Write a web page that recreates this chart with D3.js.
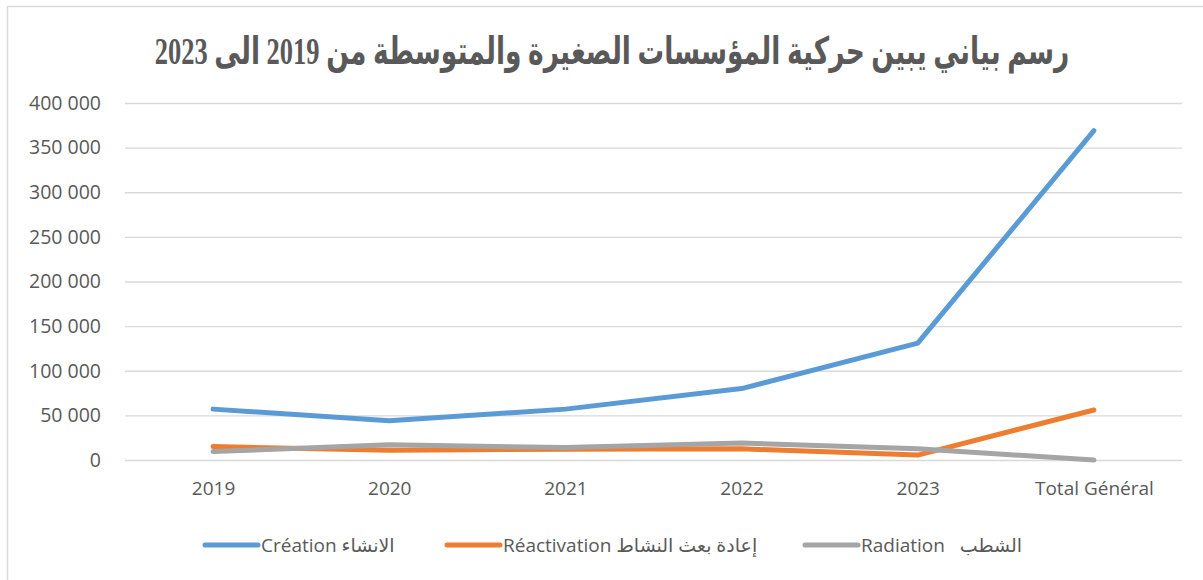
<!DOCTYPE html>
<html>
<head>
<meta charset="utf-8">
<script src="https://cdn.jsdelivr.net/npm/d3@7"></script>
<style>
  body { margin: 0; background: #fff; }
  text { font-family: "Open Sans", "DejaVu Sans", sans-serif; fill: #595959; white-space: pre; }
</style>
</head>
<body>
<div id="chart"></div>
<script>
var categories = ["2019", "2020", "2021", "2022", "2023", "Total Général"];
var creation = [57000, 44000, 57000, 80000, 131000, 369000];
var reactivation = [15000, 11000, 12000, 12500, 5500, 56000];
var radiation = [9500, 17000, 14000, 19000, 12500, 0];
var yTicks = [0, 50000, 100000, 150000, 200000, 250000, 300000, 350000, 400000];
var titleText = "رسم بياني يبين حركية المؤسسات الصغيرة والمتوسطة من 2019 الى 2023";

var series = [
    {name: "Création الانشاء", values: creation, color: "#5B9BD5"},
    {name: "Réactivation إعادة بعث النشاط", values: reactivation, color: "#ED7D31"},
    {name: "Radiation \u00a0\u00a0الشطب", values: radiation, color: "#A5A5A5"}
];

var width = 1203, height = 580;
var margin = {top: 103, right: 21, bottom: 120, left: 125};
var plotW = width - margin.left - margin.right,
    plotH = height - margin.top - margin.bottom;

var svg = d3.select("#chart").append("svg")
    .attr("width", width)
    .attr("height", height);

// chart border
svg.append("rect")
    .attr("x", 7.5).attr("y", 6.5)
    .attr("width", width + 10).attr("height", height + 10)
    .attr("fill", "none")
    .attr("stroke", "#d9d9d9")
    .attr("stroke-width", 1.5);

// title, fitted to the reference width
var titleG = svg.append("g");
var title = titleG.append("text")
    .attr("x", 0)
    .attr("y", 0)
    .attr("text-anchor", "middle")
    .style("font-family", "'Liberation Serif', 'DejaVu Sans', serif")
    .style("font-weight", "bold")
    .style("font-size", "38px")
    .style("fill", "#595959")
    .attr("direction", "rtl")
    .text(titleText);
var tw = title.node().getComputedTextLength();
titleG.attr("transform", "translate(612,64) scale(" + (915 / tw) + ",1)");

var g = svg.append("g")
    .attr("transform", "translate(" + margin.left + "," + margin.top + ")");

var x = d3.scalePoint()
    .domain(categories)
    .range([0, plotW])
    .padding(0.5);

var y = d3.scaleLinear()
    .domain([0, 400000])
    .range([plotH, 0]);

var fmt = function(d) { return d3.format(",")(d).replace(/,/g, " "); };

// grid lines
g.append("g")
    .attr("class", "grid")
    .call(d3.axisLeft(y).tickValues(yTicks).tickSize(-plotW).tickFormat(""))
    .call(function(a) {
        a.select(".domain").remove();
        a.selectAll("line").attr("stroke", "#d9d9d9").attr("stroke-width", 1.3);
    });

// y axis labels
g.append("g")
    .call(d3.axisLeft(y).tickValues(yTicks).tickSize(0).tickPadding(24).tickFormat(fmt))
    .call(function(a) {
        a.select(".domain").remove();
        a.selectAll("text").style("font-size", "19.5px").style("fill", "#595959");
    });

// x axis labels
g.append("g")
    .attr("transform", "translate(0," + plotH + ")")
    .call(d3.axisBottom(x).tickSize(0).tickPadding(22))
    .call(function(a) {
        a.select(".domain").remove();
        a.selectAll("text").style("font-size", "19px").style("fill", "#595959");
    });

// lines
var line = d3.line()
    .x(function(d, i) { return x(categories[i]); })
    .y(function(d) { return y(d); });

g.selectAll(".series")
    .data(series)
    .enter()
    .append("path")
    .attr("class", "series")
    .attr("fill", "none")
    .attr("stroke", function(d) { return d.color; })
    .attr("stroke-width", 5)
    .attr("stroke-linecap", "round")
    .attr("stroke-linejoin", "round")
    .attr("d", function(d) { return line(d.values); });

// legend
var legendX = [205, 447, 805];
var legend = svg.selectAll(".legend")
    .data(series)
    .enter()
    .append("g")
    .attr("class", "legend")
    .attr("transform", function(d, i) { return "translate(" + legendX[i] + ",545)"; });

legend.append("line")
    .attr("x1", 0).attr("x2", 53)
    .attr("stroke", function(d) { return d.color; })
    .attr("stroke-width", 5)
    .attr("stroke-linecap", "round");

legend.append("text")
    .attr("x", 56)
    .attr("dy", "0.35em")
    .attr("direction", "ltr")
    .style("font-size", "19px")
    .text(function(d) { return d.name; });
</script>
</body>
</html>
